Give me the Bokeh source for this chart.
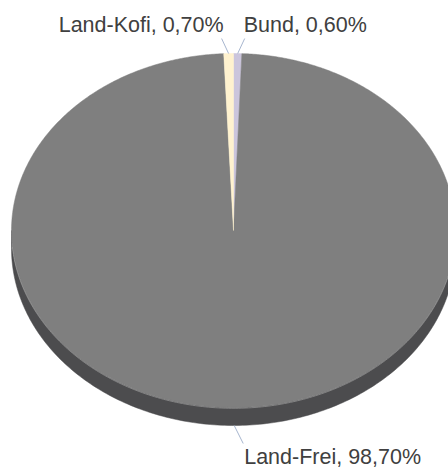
import numpy as np
from bokeh.plotting import figure
from bokeh.models import ColumnDataSource, Range1d
from bokeh.core.properties import value
from bokeh.embed import file_html
from bokeh.resources import INLINE

# data (clockwise from 12 o'clock)
categories = ["Bund", "Land-Frei", "Land-Kofi"]
shares = [0.60, 98.70, 0.70]
labels = ["Bund, 0,60%", "Land-Frei, 98,70%", "Land-Kofi, 0,70%"]

top_colors = {"Bund": "#cbc5dc", "Land-Frei": "#7f7f7f", "Land-Kofi": "#fff2cf"}
side_colors = {"Bund": "#8f8a9c", "Land-Frei": "#4c4c4e", "Land-Kofi": "#b3aa90"}

# geometry in page pixels
CX, CY, RX, RY, DEPTH = 233.0, 230.0, 222.0, 177.0, 18.0
W, H = 448, 474

def pt(theta_deg, dy=0.0):
    t = np.radians(theta_deg)
    return CX + RX * np.sin(t), CY - RY * np.cos(t) + dy

p = figure(width=W, height=H, output_backend="svg", toolbar_location=None,
           x_range=Range1d(0, W), y_range=Range1d(H, 0), min_border=0)
p.axis.visible = False
p.grid.visible = False
p.outline_line_color = None
p.background_fill_color = "white"

total = sum(shares)
starts = np.concatenate([[0], np.cumsum(shares)[:-1]]) / total * 360.0
ends = np.cumsum(shares) / total * 360.0

# side (front half only: 90..270 deg)
sx, sy, sc = [], [], []
for cat, a, b in zip(categories, starts, ends):
    lo, hi = max(a, 90.0), min(b, 270.0)
    if hi <= lo:
        continue
    th = np.linspace(lo, hi, 200)
    xt, yt = pt(th)
    xb, yb = pt(th[::-1], DEPTH)
    sx.append(np.concatenate([xt, xb]).tolist())
    sy.append(np.concatenate([yt, yb]).tolist())
    sc.append(side_colors[cat])
p.patches(xs="xs", ys="ys", fill_color="c", line_color="c", line_width=0.5,
          source=ColumnDataSource(dict(xs=sx, ys=sy, c=sc)))

# top faces
tx, ty, tc = [], [], []
for cat, a, b in zip(categories, starts, ends):
    th = np.linspace(a, b, max(3, int((b - a) * 2)))
    x, y = pt(th)
    tx.append([CX] + x.tolist())
    ty.append([CY] + y.tolist())
    tc.append(top_colors[cat])
p.patches(xs="xs", ys="ys", fill_color="c", line_color="c", line_width=0.5,
          source=ColumnDataSource(dict(xs=tx, ys=ty, c=tc)))

# light rim between top and side
th = np.linspace(95, 265, 200)
rx_, ry_ = pt(th)
p.line(rx_, ry_ + 0.8, line_color="#9a9a9a", line_width=1, line_alpha=0.7)

# leader lines and labels
mids = (starts + ends) / 2.0
offsets = {"Bund": (7, -15), "Land-Frei": (9, 18), "Land-Kofi": (-7, -15)}
for cat, m, lab in zip(categories, mids, labels):
    dy = DEPTH if 90 < m < 270 else 0.0
    x0, y0 = pt(m, dy)
    ox, oy = offsets[cat]
    x1, y1 = x0 + ox, y0 + oy
    p.line([x0, x1], [y0, y1], line_color="#a7b6cf", line_width=1)
    if cat == "Land-Kofi":
        align, tx_, ty_ = "right", x1 + 2, y1 - 14
    elif cat == "Bund":
        align, tx_, ty_ = "left", x1 - 1, y1 - 14
    else:
        align, tx_, ty_ = "left", x1 + 1, y1 + 14
    p.text(x=[tx_], y=[ty_], text=[lab], text_align=align, text_baseline="middle",
           text_font=value("Liberation Sans"), text_font_size="21.5px",
           text_color="#404040")

open("out.html", "w").write(file_html(p, INLINE))
